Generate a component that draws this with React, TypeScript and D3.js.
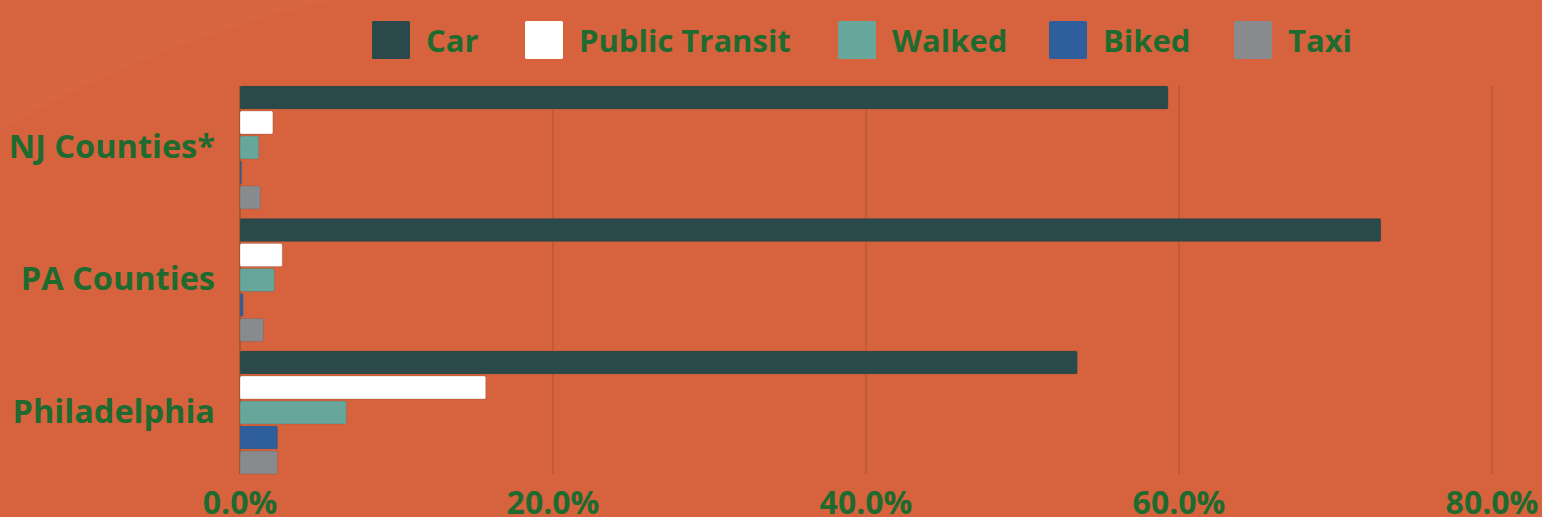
import React from "react";
import * as d3 from "d3";

const categories = ["NJ Counties*", "PA Counties", "Philadelphia"];
const series = ["Car", "Public Transit", "Walked", "Biked", "Taxi"];
const car = [59.3, 72.9, 53.5];
const publicTransit = [2.1, 2.7, 15.7];
const walked = [1.2, 2.2, 6.8];
const biked = [0.1, 0.2, 2.4];
const taxi = [1.3, 1.5, 2.4];
const xTicks = [0, 20, 40, 60, 80];
const colors = ["#29494a", "#ffffff", "#67a79b", "#2e5f9c", "#898a8e"];

const W = 1542;
const H = 517;
const FONT = "'Open Sans', sans-serif";
const TEXT = "#1e6a2f";

export default function App() {
  const values = [car, publicTransit, walked, biked, taxi];
  const x = d3.scaleLinear().domain([0, 80]).range([240, 1492]);
  const y0 = d3.scaleBand<string>().domain(categories).range([86, 474]).paddingInner(0.0717).paddingOuter(0);
  const y1 = d3.scaleBand<string>().domain(series).range([0, y0.bandwidth()]).paddingInner(0.08).paddingOuter(0);
  const legendX = [372, 525, 838, 1049, 1234];

  return (
    <svg width={W} height={H} style={{ position: "absolute", left: 0, top: 0, display: "block" }}>
      <rect x={0} y={0} width={W} height={H} fill="#d7633e" />
      <path d="M0,0 L330,0 Q160,40 0,130 Z" fill="#ffffff" opacity={0.02} />
      {xTicks.map((t) => (
        <line key={t} x1={x(t)} x2={x(t)} y1={86} y2={474} stroke="#b4552f" strokeWidth={1.2} />
      ))}
      <line x1={x(0)} x2={x(0)} y1={86} y2={474} stroke="#9a5a2c" strokeWidth={1.5} />
      {categories.map((c, ci) => (
        <g key={c} transform={`translate(0,${y0(c)})`}>
          {series.map((s, si) => (
            <rect
              key={s}
              x={x(0)}
              y={y1(s)}
              width={x(values[si][ci]) - x(0)}
              height={y1.bandwidth()}
              rx={1.5}
              fill={colors[si]}
              stroke="rgba(110,70,50,0.3)"
              strokeWidth={0.8}
            />
          ))}
          <text
            x={215}
            y={y0.bandwidth() / 2 - 2}
            textAnchor="end"
            dominantBaseline="central"
            fontFamily={FONT}
            fontWeight={700}
            fontSize={32.5}
            fill={TEXT}
          >
            {c}
          </text>
        </g>
      ))}
      {xTicks.map((t) => (
        <text
          key={t}
          x={x(t)}
          y={514}
          textAnchor="middle"
          fontFamily={FONT}
          fontWeight={700}
          fontSize={32}
          fill={TEXT}
        >
          {d3.format(".1f")(t) + "%"}
        </text>
      ))}
      {series.map((s, si) => (
        <g key={s}>
          <rect x={legendX[si]} y={21} width={38} height={38} rx={1.5} fill={colors[si]} />
          <text
            x={legendX[si] + 54}
            y={40}
            dominantBaseline="central"
            fontFamily={FONT}
            fontWeight={700}
            fontSize={31}
            fill={TEXT}
          >
            {s}
          </text>
        </g>
      ))}
    </svg>
  );
}
